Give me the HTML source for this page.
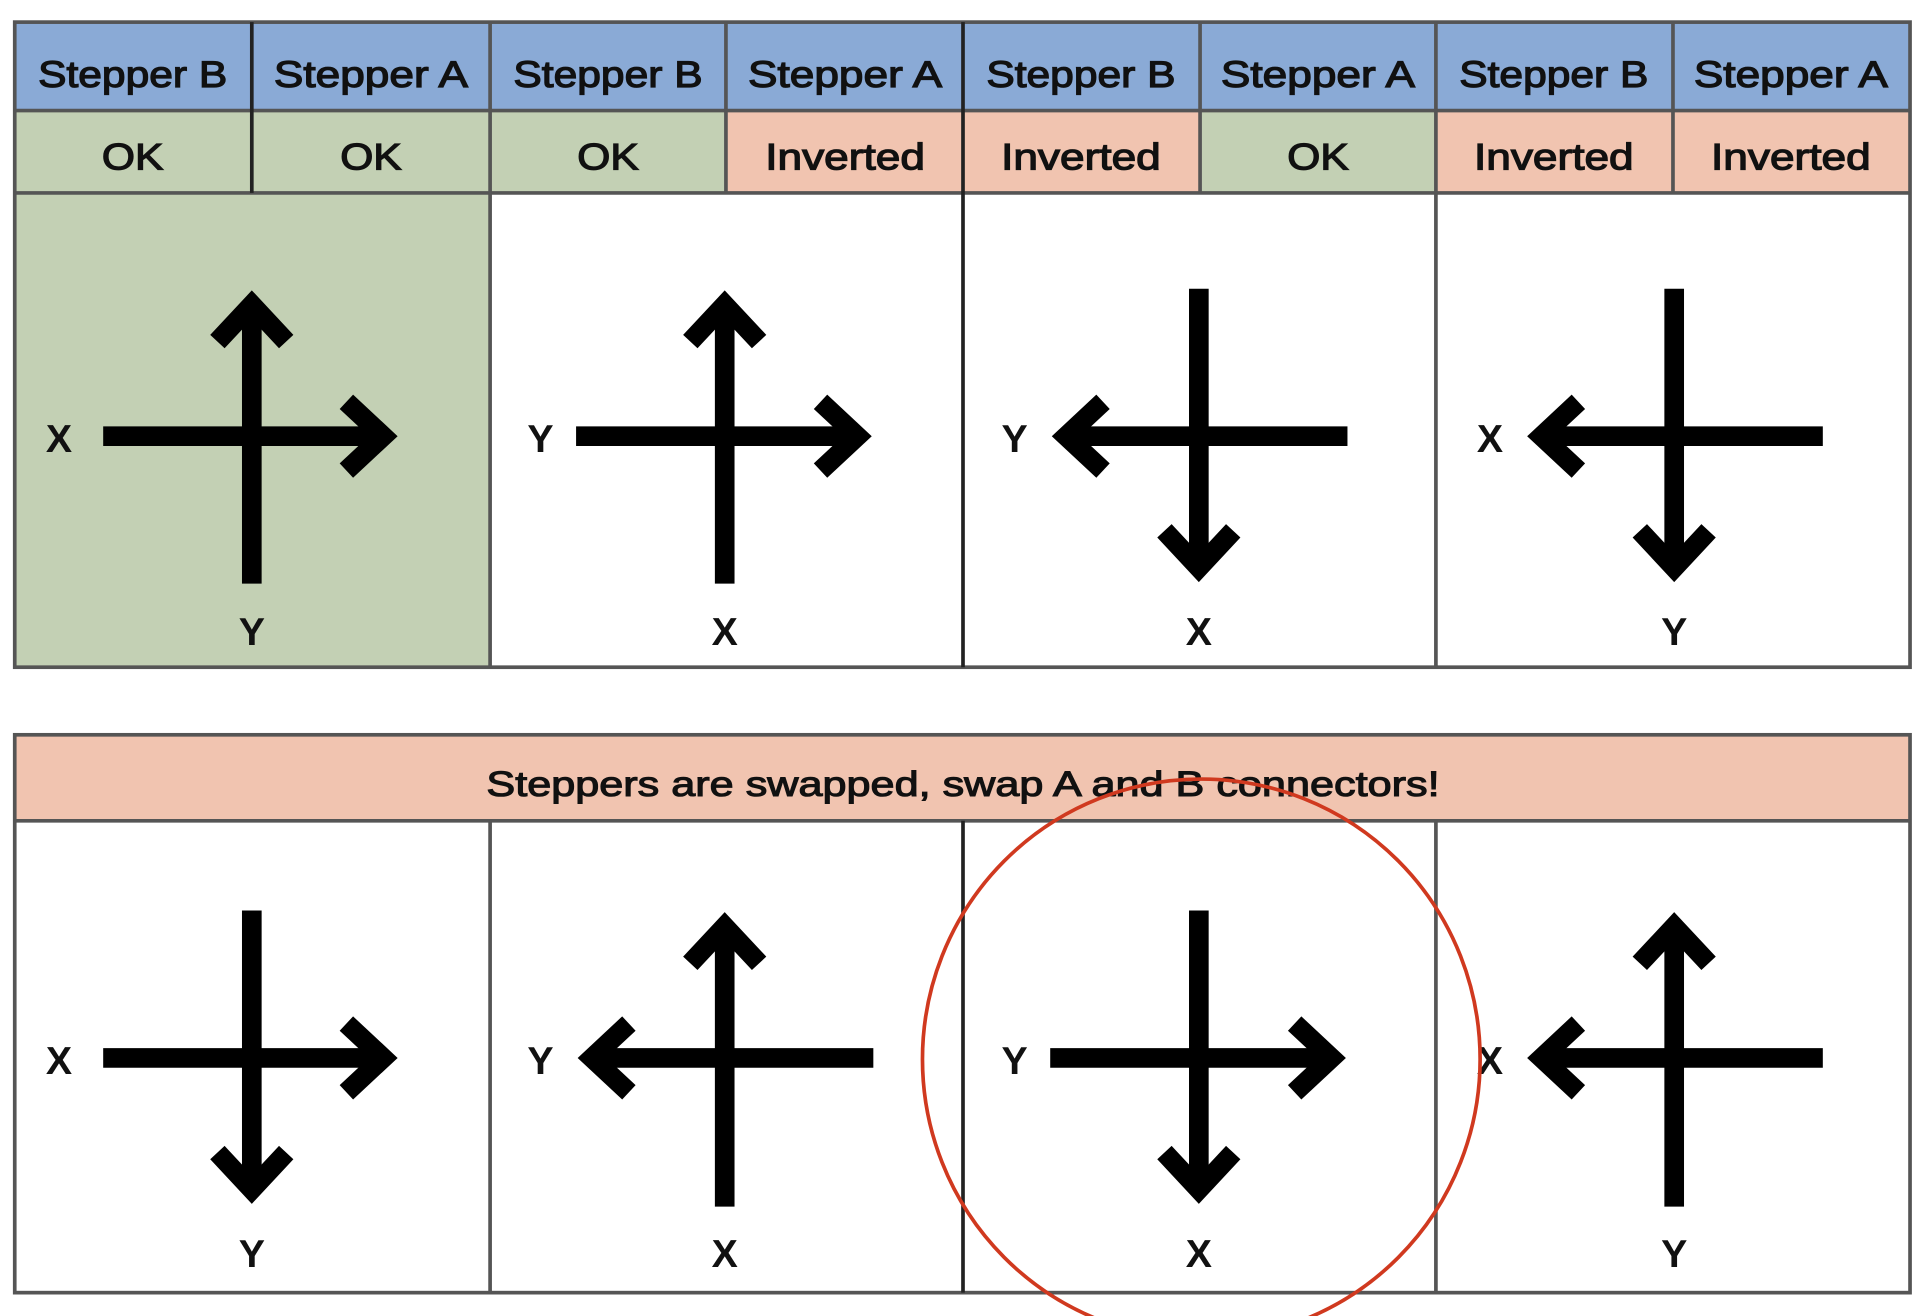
<!DOCTYPE html>
<html><head><meta charset="utf-8"><style>
html,body{margin:0;padding:0;background:#fff;width:1926px;height:1316px;overflow:hidden}
svg{display:block}
text{font-family:"Liberation Sans",sans-serif;fill:#111}
</style></head><body>
<svg width="1926" height="1316" viewBox="0 0 1568 1071" preserveAspectRatio="none" xmlns="http://www.w3.org/2000/svg">
<rect x="12" y="18" width="1543" height="72" fill="#8aaad6"/>
<rect x="12" y="90" width="579" height="67" fill="#c3d0b4"/>
<rect x="591" y="90" width="386" height="67" fill="#f1c4b0"/>
<rect x="977" y="90" width="192" height="67" fill="#c3d0b4"/>
<rect x="1169" y="90" width="386" height="67" fill="#f1c4b0"/>
<rect x="12" y="157" width="387" height="386" fill="#c3d0b4"/>
<g stroke="#555" stroke-width="3" fill="none">
<rect x="12" y="18" width="1543" height="525"/>
<line x1="12" y1="90" x2="1555" y2="90"/>
<line x1="12" y1="157" x2="1555" y2="157"/>
<line x1="205" y1="18" x2="205" y2="157" stroke="#222"/>
<line x1="399" y1="18" x2="399" y2="543"/>
<line x1="591" y1="18" x2="591" y2="157"/>
<line x1="784" y1="18" x2="784" y2="543" stroke="#222"/>
<line x1="977" y1="18" x2="977" y2="157"/>
<line x1="1169" y1="18" x2="1169" y2="543"/>
<line x1="1362" y1="18" x2="1362" y2="157"/>
</g>
<g font-size="30" text-anchor="middle" stroke="#111" stroke-width="1" lengthAdjust="spacingAndGlyphs">
<text x="108" y="71" textLength="154" lengthAdjust="spacingAndGlyphs">Stepper B</text><text x="302" y="71" textLength="158" lengthAdjust="spacingAndGlyphs">Stepper A</text>
<text x="495" y="71" textLength="154" lengthAdjust="spacingAndGlyphs">Stepper B</text><text x="688" y="71" textLength="158" lengthAdjust="spacingAndGlyphs">Stepper A</text>
<text x="880" y="71" textLength="154" lengthAdjust="spacingAndGlyphs">Stepper B</text><text x="1073" y="71" textLength="158" lengthAdjust="spacingAndGlyphs">Stepper A</text>
<text x="1265" y="71" textLength="154" lengthAdjust="spacingAndGlyphs">Stepper B</text><text x="1458" y="71" textLength="158" lengthAdjust="spacingAndGlyphs">Stepper A</text>
<text x="108" y="138" textLength="50" lengthAdjust="spacingAndGlyphs">OK</text><text x="302" y="138" textLength="50" lengthAdjust="spacingAndGlyphs">OK</text>
<text x="495" y="138" textLength="50" lengthAdjust="spacingAndGlyphs">OK</text><text x="688" y="138" textLength="130" lengthAdjust="spacingAndGlyphs">Inverted</text>
<text x="880" y="138" textLength="130" lengthAdjust="spacingAndGlyphs">Inverted</text><text x="1073" y="138" textLength="50" lengthAdjust="spacingAndGlyphs">OK</text>
<text x="1265" y="138" textLength="130" lengthAdjust="spacingAndGlyphs">Inverted</text><text x="1458" y="138" textLength="130" lengthAdjust="spacingAndGlyphs">Inverted</text>
</g>
<rect x="12" y="598" width="1543" height="70" fill="#f1c4b0"/>
<g stroke="#555" stroke-width="3" fill="none">
<rect x="12" y="598" width="1543" height="454"/>
<line x1="12" y1="668" x2="1555" y2="668"/>
<line x1="399" y1="668" x2="399" y2="1052"/>
<line x1="784" y1="668" x2="784" y2="1052" stroke="#222"/>
<line x1="1169" y1="668" x2="1169" y2="1052"/>
</g>
<text x="784" y="648" font-size="29" text-anchor="middle" stroke="#111" stroke-width="0.9" textLength="776" lengthAdjust="spacingAndGlyphs">Steppers are swapped, swap A and B connectors!</text>

<g stroke="#000" stroke-width="16" fill="none" stroke-linejoin="miter" stroke-miterlimit="10">
<line x1="84" y1="355" x2="312" y2="355"/><polyline points="282,327 312,355 282,383"/>
<line x1="205" y1="475" x2="205" y2="248"/><polyline points="177,278 205,248 233,278"/>
<line x1="469" y1="355" x2="698" y2="355"/><polyline points="668,327 698,355 668,383"/>
<line x1="590" y1="475" x2="590" y2="248"/><polyline points="562,278 590,248 618,278"/>
<line x1="1097" y1="355" x2="868" y2="355"/><polyline points="898,327 868,355 898,383"/>
<line x1="976" y1="235" x2="976" y2="462"/><polyline points="948,432 976,462 1004,432"/>
<line x1="1484" y1="355" x2="1255" y2="355"/><polyline points="1285,327 1255,355 1285,383"/>
<line x1="1363" y1="235" x2="1363" y2="462"/><polyline points="1335,432 1363,462 1391,432"/>
<line x1="84" y1="861" x2="312" y2="861"/><polyline points="282,833 312,861 282,889"/>
<line x1="205" y1="741" x2="205" y2="968"/><polyline points="177,938 205,968 233,938"/>
<line x1="711" y1="861" x2="482" y2="861"/><polyline points="512,833 482,861 512,889"/>
<line x1="590" y1="982" x2="590" y2="754"/><polyline points="562,784 590,754 618,784"/>
<line x1="855" y1="861" x2="1084" y2="861"/><polyline points="1054,833 1084,861 1054,889"/>
<line x1="976" y1="741" x2="976" y2="968"/><polyline points="948,938 976,968 1004,938"/>
<line x1="1484" y1="861" x2="1255" y2="861"/><polyline points="1285,833 1255,861 1285,889"/>
<line x1="1363" y1="982" x2="1363" y2="754"/><polyline points="1335,784 1363,754 1391,784"/>
</g>
<g font-size="32" font-weight="bold" text-anchor="middle" fill="#000">
<text x="48" y="368">X</text><text x="205" y="525">Y</text>
<text x="440" y="368">Y</text><text x="590" y="525">X</text>
<text x="826" y="368">Y</text><text x="976" y="525">X</text>
<text x="1213" y="368">X</text><text x="1363" y="525">Y</text>
<text x="48" y="874">X</text><text x="205" y="1031">Y</text>
<text x="440" y="874">Y</text><text x="590" y="1031">X</text>
<text x="826" y="874">Y</text><text x="976" y="1031">X</text>
<text x="1213" y="874">X</text><text x="1363" y="1031">Y</text>
</g>
<ellipse cx="978" cy="862" rx="227" ry="228" fill="none" stroke="#d0391f" stroke-width="3"/>
</svg>
</body></html>
